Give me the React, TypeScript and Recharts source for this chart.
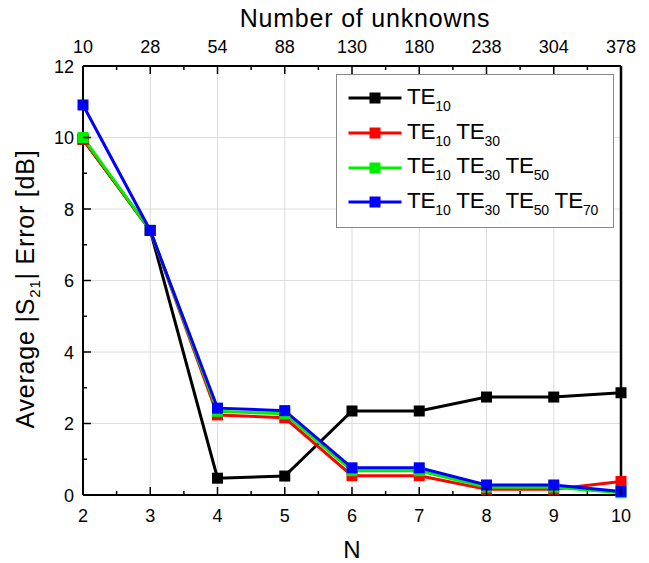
import React from "react";
import { LineChart, Line, XAxis, YAxis, ReferenceLine } from "recharts";

const nValues = [2, 3, 4, 5, 6, 7, 8, 9, 10];
const unknowns = [10, 28, 54, 88, 130, 180, 238, 304, 378];
const te10 = [9.95, 7.4, 0.47, 0.53, 2.35, 2.35, 2.74, 2.74, 2.86];
const te10_30 = [9.95, 7.4, 2.24, 2.16, 0.54, 0.54, 0.16, 0.16, 0.38];
const te10_30_50 = [10.0, 7.4, 2.34, 2.27, 0.68, 0.68, 0.22, 0.22, 0.06];
const te10_30_50_70 = [10.91, 7.4, 2.43, 2.36, 0.76, 0.76, 0.28, 0.28, 0.1];

const xTicks = [2, 2.5, 3, 3.5, 4, 4.5, 5, 5.5, 6, 6.5, 7, 7.5, 8, 8.5, 9, 9.5, 10];
const yTicks = [0, 1, 2, 3, 4, 5, 6, 7, 8, 9, 10, 11, 12];
const xGrid = [3, 4, 5, 6, 7, 8, 9];
const yGrid = [2, 4, 6, 8, 10];

const series = [
  { key: "a", color: "#000000", subs: ["10"] },
  { key: "b", color: "#ff0000", subs: ["10", "30"] },
  { key: "c", color: "#00ee00", subs: ["10", "30", "50"] },
  { key: "d", color: "#0000ff", subs: ["10", "30", "50", "70"] },
];

const data = nValues.map((n, i) => ({
  n,
  a: te10[i],
  b: te10_30[i],
  c: te10_30_50[i],
  d: te10_30_50_70[i],
}));

const FONT = "'Liberation Sans', Arial, sans-serif";

const isMajorX = (v: number) => Number.isInteger(v);
const isMajorY = (v: number) => v % 2 === 0;

const BottomTick = ({ x, y, payload }: any) => {
  const major = isMajorX(payload.value);
  return (
    <g>
      <line x1={x} x2={x} y1={y} y2={y - (major ? 8 : 4)} stroke="#000" strokeWidth={1.5} />
      {major && (
        <text x={x} y={y + 27} textAnchor="middle" fontSize={18} fontFamily={FONT} fill="#000">
          {payload.value}
        </text>
      )}
    </g>
  );
};

const TopTick = ({ x, y, payload }: any) => {
  const major = isMajorX(payload.value);
  const idx = nValues.indexOf(payload.value);
  return (
    <g>
      <line x1={x} x2={x} y1={y} y2={y + (major ? 8 : 4)} stroke="#000" strokeWidth={1.5} />
      {major && (
        <text x={x} y={y - 13} textAnchor="middle" fontSize={18} fontFamily={FONT} fill="#000">
          {unknowns[idx]}
        </text>
      )}
    </g>
  );
};

const LeftTick = ({ x, y, payload }: any) => {
  const major = isMajorY(payload.value);
  return (
    <g>
      <line x1={x} x2={x + (major ? 8 : 4)} y1={y} y2={y} stroke="#000" strokeWidth={1.5} />
      {major && (
        <text x={x - 9} y={y + 6.5} textAnchor="end" fontSize={18} fontFamily={FONT} fill="#000">
          {payload.value}
        </text>
      )}
    </g>
  );
};

const RightTick = ({ x, y, payload }: any) => {
  const major = isMajorY(payload.value);
  return <line x1={x} x2={x - (major ? 8 : 4)} y1={y} y2={y} stroke="#000" strokeWidth={1.5} />;
};

const SquareDot = ({ cx, cy, stroke }: any) => {
  if (cx == null || cy == null) return null;
  return <rect x={cx - 5.5} y={cy - 5.5} width={11} height={11} fill={stroke} />;
};

const TeLabel = ({ subs }: { subs: string[] }) => (
  <span>
    {subs.map((s, i) => (
      <span key={i}>
        {i > 0 ? " " : ""}TE<sub style={{ fontSize: 14, verticalAlign: "-7px" }}>{s}</sub>
      </span>
    ))}
  </span>
);

const LegendBox = () => (
  <div
    style={{
      position: "absolute",
      left: 336,
      top: 74,
      border: "1.5px solid #888",
      background: "#fff",
      width: 278,
      height: 154,
      boxSizing: "border-box",
      padding: "6px 0 0 10px",
      fontFamily: FONT,
      fontSize: 22.5,
      color: "#000",
    }}
  >
    {series.map((s) => (
      <div key={s.key} style={{ display: "flex", alignItems: "center", height: 34.7 }}>
        <svg width={56} height={14} style={{ marginRight: 4, flexShrink: 0 }}>
          <line x1={1.5} x2={54.5} y1={7} y2={7} stroke={s.color} strokeWidth={3} />
          <rect x={22.5} y={1.5} width={11} height={11} fill={s.color} />
        </svg>
        <div style={{ marginTop: 1, whiteSpace: "nowrap", letterSpacing: -0.2 }}>
          <TeLabel subs={s.subs} />
        </div>
      </div>
    ))}
  </div>
);

const titleStyle: React.CSSProperties = {
  position: "absolute",
  fontFamily: FONT,
  color: "#000",
  whiteSpace: "nowrap",
  transform: "translateX(-50%)",
};

export default function App() {
  return (
    <div style={{ position: "absolute", left: 0, top: 0, width: 649, height: 563, background: "#fff" }}>
      <LineChart
        width={649}
        height={563}
        data={data}
        margin={{ top: 36, right: 18, bottom: 38, left: 33 }}
      >
        <XAxis
          xAxisId="bottom"
          dataKey="n"
          type="number"
          domain={[2, 10]}
          ticks={xTicks}
          interval={0}
          height={30}
          tickSize={0}
          tickMargin={0}
          tickLine={false}
          axisLine={{ stroke: "#000", strokeWidth: 2 }}
          tick={<BottomTick />}
        />
        <XAxis
          xAxisId="top"
          orientation="top"
          dataKey="n"
          type="number"
          domain={[2, 10]}
          ticks={xTicks}
          interval={0}
          height={30}
          tickSize={0}
          tickMargin={0}
          tickLine={false}
          axisLine={{ stroke: "#000", strokeWidth: 2 }}
          tick={<TopTick />}
        />
        <YAxis
          yAxisId="left"
          type="number"
          domain={[0, 12]}
          ticks={yTicks}
          interval={0}
          width={50}
          tickSize={0}
          tickMargin={0}
          tickLine={false}
          axisLine={{ stroke: "#000", strokeWidth: 2 }}
          tick={<LeftTick />}
        />
        <YAxis
          yAxisId="right"
          orientation="right"
          type="number"
          domain={[0, 12]}
          ticks={yTicks}
          interval={0}
          width={10}
          tickSize={0}
          tickMargin={0}
          tickLine={false}
          axisLine={{ stroke: "#000", strokeWidth: 2.5 }}
          tick={<RightTick />}
        />
        {xGrid.map((v) => (
          <ReferenceLine key={"x" + v} x={v} xAxisId="bottom" yAxisId="left" stroke="#dcdcdc" strokeWidth={1} />
        ))}
        {yGrid.map((v) => (
          <ReferenceLine key={"y" + v} y={v} xAxisId="bottom" yAxisId="left" stroke="#dcdcdc" strokeWidth={1} />
        ))}
        {series.map((s) => (
          <Line
            key={s.key}
            xAxisId="bottom"
            yAxisId="left"
            dataKey={s.key}
            type="linear"
            stroke={s.color}
            strokeWidth={3}
            dot={<SquareDot />}
            activeDot={false}
            isAnimationActive={false}
          />
        ))}
      </LineChart>
      <LegendBox />
      <div style={{ ...titleStyle, left: 365, top: 4, fontSize: 25, letterSpacing: 0.8 }}>Number of unknowns</div>
      <div style={{ ...titleStyle, left: 352, top: 536, fontSize: 24 }}>N</div>
      <div
        style={{
          position: "absolute",
          left: 27,
          top: 289,
          transform: "translate(-50%, -50%) rotate(-90deg)",
          whiteSpace: "nowrap",
          fontFamily: FONT,
          fontSize: 25,
          letterSpacing: 0.8,
          color: "#000",
        }}
      >
        Average |S<sub style={{ fontSize: 15, verticalAlign: "-6px" }}>21</sub>| Error [dB]
      </div>
    </div>
  );
}
